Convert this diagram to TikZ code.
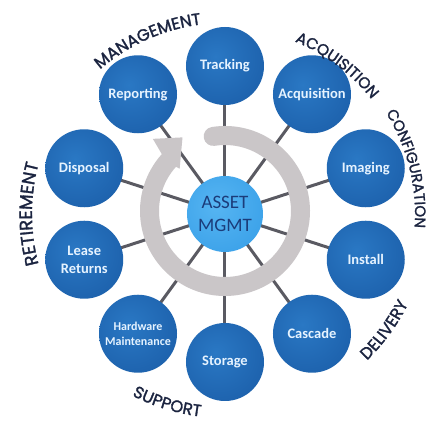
\documentclass[tikz,border=0pt]{standalone}
\usepackage{fontspec}
\setmainfont{Carlito}
\newfontfamily\arcfont[LetterSpace=1,FakeBold=1.6]{Poppins}
\usetikzlibrary{decorations.text}
\definecolor{nodedark}{HTML}{154A8A}
\definecolor{nodemid}{HTML}{1E63AE}
\definecolor{nodelight}{HTML}{2A78C4}
\definecolor{cdark}{HTML}{2A8AD8}
\definecolor{cmid}{HTML}{3CA2E9}
\definecolor{clight}{HTML}{56B5F2}
\definecolor{ringc}{HTML}{CAC6C8}
\definecolor{spokec}{HTML}{5A5A62}
\definecolor{labelc}{HTML}{1B2440}
\definecolor{ntext}{HTML}{E6F3FF}
\definecolor{ctext}{HTML}{1B3C7A}
\pgfdeclareradialshading{outerball}{\pgfpoint{-6bp}{6bp}}{color(0bp)=(nodelight); color(30bp)=(nodemid); color(50bp)=(nodedark); color(100bp)=(nodedark)}
\pgfdeclareradialshading{centerball}{\pgfpoint{-6bp}{6bp}}{color(0bp)=(clight); color(32bp)=(cmid); color(50bp)=(cdark); color(100bp)=(cdark)}
\pgfdeclarelayer{bglayer}
\pgfdeclarelayer{spokes}
\pgfdeclarelayer{ringlayer}
\pgfsetlayers{bglayer,spokes,ringlayer,main}
\tikzset{
  outer/.style={circle, minimum size=78pt, inner sep=0pt, shading=outerball, text=ntext,
    font=\bfseries\fontsize{14.5}{17.5}\selectfont, align=center},
  centre/.style={circle, minimum size=76pt, inner sep=0pt, shading=centerball, text=ctext,
    font=\fontsize{19}{23}\selectfont, align=center},
  spoke/.style={draw=spokec, line width=3pt},
  arclabel/.style n args={2}{decorate, decoration={text along path, text align=center, text color=labelc,
    text={|\arcfont\fontsize{#2}{19}\selectfont|#1}}}
}
\begin{document}
\begin{tikzpicture}[x=1pt,y=1pt]
\begin{pgfonlayer}{bglayer}
\fill[white] (-225pt,-208pt) rectangle (215pt,214pt);
\end{pgfonlayer}
\useasboundingbox (-225pt,-208pt) rectangle (215pt,214pt);
% nodes
\node[centre] (c) at (0pt,0pt) {ASSET\\MGMT};
\node[outer] (trk) at (90:148pt) {Tracking};
\node[outer] (acq) at (54:148pt) {Acquisition};
\node[outer] (img) at (18:148pt) {Imaging};
\node[outer] (ins) at (-18:148pt) {Install};
\node[outer] (cas) at (-54:148pt) {Cascade};
\node[outer] (sto) at (-90:148pt) {Storage};
\node[outer, font=\bfseries\fontsize{12}{14.5}\selectfont] (hw) at (-126:148pt) {Hardware\\Maintenance};
\node[outer] (lea) at (-162:148pt) {Lease\\Returns};
\node[outer] (dis) at (162:148pt) {Disposal};
\node[outer] (rep) at (126:148pt) {Reporting};
% spokes
\begin{pgfonlayer}{spokes}
\foreach \n in {trk,acq,img,ins,cas,sto,hw,lea,dis,rep}
  \draw[spoke] (c.center) -- (\n.center);
\end{pgfonlayer}
% circular arrow
\begin{pgfonlayer}{ringlayer}
\begin{scope}[shift={(0pt,3pt)}]
\fill[ringc] (99:85pt) arc[start angle=99, end angle=-222, radius=85pt]
  -- (135:102pt) -- (120:85pt) -- (137:62pt) -- (138:66pt)
  arc[start angle=-222, end angle=99, radius=66pt]
  arc[start angle=279, end angle=99, radius=9.5pt] -- cycle;
\end{scope}
\end{pgfonlayer}
% curved labels
\path[arclabel={MANAGEMENT}{16.5}] (159:191pt) arc[start angle=159, end angle=69, radius=191pt];
\path[arclabel={ACQUISITION}{15.5}] (98:186pt) arc[start angle=98, end angle=8, radius=186pt];
\path[arclabel={CONFIGURATION}{15}] (59:190pt) arc[start angle=59, end angle=-31, radius=190pt];
\path[arclabel={RETIREMENT}{18}] (225:193pt) arc[start angle=225, end angle=135, radius=193pt];
\path[arclabel={DELIVERY}{16.5}] (-81:204pt) arc[start angle=-81, end angle=9, radius=204pt];
\path[arclabel={SUPPORT}{16.5}] (-152:204pt) arc[start angle=-152, end angle=-62, radius=204pt];
\end{tikzpicture}
\end{document}
